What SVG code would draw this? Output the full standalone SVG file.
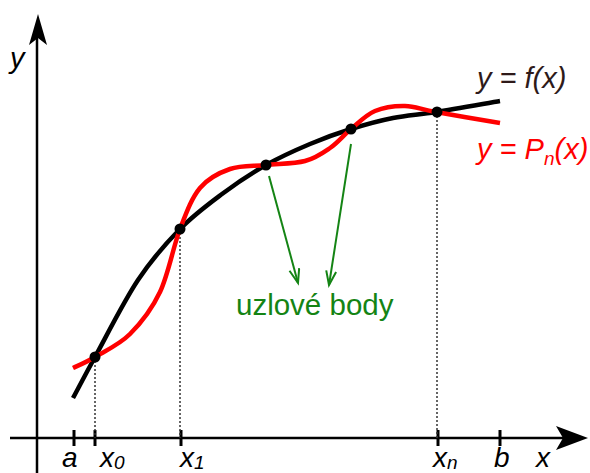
<svg xmlns="http://www.w3.org/2000/svg" width="590" height="473" viewBox="0 0 590 473">
<style>
.lbl{font-family:"Liberation Sans",Arial,sans-serif;font-style:italic;font-size:29px;fill:#000}
.bot{font-size:28px}
.sub{font-size:19px}
.axis{stroke:#000;stroke-width:2.5;fill:none}
.tick{stroke:#000;stroke-width:3}
.drop{stroke:#333;stroke-width:1.5;stroke-dasharray:2 2;fill:none}
.node{fill:#000}
.green{stroke:#148414;stroke-width:2;fill:none}
</style>
<defs>
<marker id="vhead" markerWidth="18" markerHeight="14" refX="15" refY="6" orient="auto" markerUnits="userSpaceOnUse">
<path d="M1,1 L15,6 L1,11" fill="none" stroke="#148414" stroke-width="2"/>
</marker>
</defs>
<g id="axes">
<line class="axis" x1="37" y1="30" x2="37" y2="473"/>
<path d="M38,14 L47,45 L38,38 L29,45 Z" fill="#000"/>
<line class="axis" x1="10" y1="438" x2="570" y2="438"/>
<path d="M588,438 L556,426 L563,438 L556,450 Z" fill="#000"/>
<line class="tick" x1="74" y1="430" x2="74" y2="446"/>
<line class="tick" x1="95" y1="430" x2="95" y2="446"/>
<line class="tick" x1="181" y1="430" x2="181" y2="446"/>
<line class="tick" x1="438" y1="430" x2="438" y2="446"/>
<line class="tick" x1="500" y1="430" x2="500" y2="446"/>
</g>
<g id="drops">
<line class="drop" x1="95" y1="357" x2="95" y2="438"/>
<line class="drop" x1="180" y1="229" x2="180" y2="438"/>
<line class="drop" x1="437" y1="112" x2="437" y2="438"/>
</g>
<g id="curve-f">
<path d="M73,398 C76.7,391.2 84.2,376.7 95,357 C105.8,337.3 123.8,301.3 138,280 C152.2,258.7 166,243.3 180,229 C194,214.7 207.7,204.7 222,194 C236.3,183.3 251.3,173.3 266,165 C280.7,156.7 295.8,150 310,144 C324.2,138 337.2,133.3 351,129 C364.8,124.7 378.8,120.8 393,118 C407.2,115.2 418.2,114.8 436,112 C453.8,109.2 489.3,102.8 500,101" fill="none" stroke="#000" stroke-width="4.5"/>
</g>
<g id="curve-p">
<path d="M73,368 C76.7,366.2 85.5,362.7 95,357 C104.5,351.3 119.2,344.8 130,334 C140.8,323.2 151.7,309.5 160,292 C168.3,274.5 173.3,246.3 180,229 C186.7,211.7 191.7,198 200,188 C208.3,178 219,172.8 230,169 C241,165.2 253.5,166.3 266,165 C278.5,163.7 294.3,163.8 305,161 C315.7,158.2 322.3,153.3 330,148 C337.7,142.7 343.5,135.2 351,129 C358.5,122.8 366,114.8 375,111 C384,107.2 394.8,105.8 405,106 C415.2,106.2 420.2,109.2 436,112 C451.8,114.8 489.3,121.2 500,123" fill="none" stroke="#ff0000" stroke-width="4.5"/>
</g>
<g id="nodes">
<circle class="node" cx="95" cy="357" r="5.5"/>
<circle class="node" cx="180" cy="229" r="5.5"/>
<circle class="node" cx="266" cy="165" r="5.5"/>
<circle class="node" cx="351" cy="129" r="5.5"/>
<circle class="node" cx="437" cy="112" r="5.5"/>
</g>
<g id="connectors">
<line class="green" x1="269" y1="176" x2="298" y2="283" marker-end="url(#vhead)"/>
<line class="green" x1="351" y1="144" x2="329" y2="285" marker-end="url(#vhead)"/>
</g>
<g id="labels">
<text class="lbl" x="10" y="68">y</text>
<text class="lbl" x="477" y="88" style="fill:#2e1a1a">y = f(x)</text>
<text class="lbl" x="477" y="159" style="fill:#ff0000">y = P<tspan class="sub" dy="6">n</tspan><tspan dy="-6">(x)</tspan></text>
<text x="236" y="315" style="font-family:'Liberation Sans',Arial,sans-serif;font-size:29.5px;fill:#148414">uzlové body</text>
<text class="lbl bot" x="62" y="467">a</text>
<text class="lbl bot" x="100" y="467">x<tspan class="sub" dy="2">0</tspan></text>
<text class="lbl bot" x="180" y="467">x<tspan class="sub" dy="2">1</tspan></text>
<text class="lbl bot" x="433" y="467">x<tspan class="sub" dy="2">n</tspan></text>
<text class="lbl bot" x="494" y="467">b</text>
<text class="lbl bot" x="536" y="467">x</text>
</g>
</svg>
